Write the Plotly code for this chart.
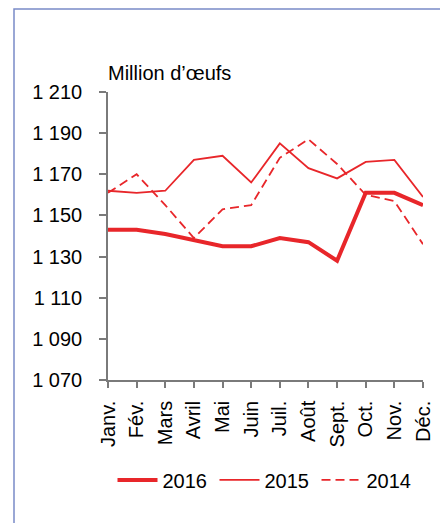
import plotly.graph_objects as go

months = ["Janv.", "Fév.", "Mars", "Avril", "Mai", "Juin", "Juil.", "Août", "Sept.", "Oct.", "Nov.", "Déc."]
y2016 = [1143, 1143, 1141, 1138, 1135, 1135, 1139, 1137, 1128, 1161, 1161, 1155]
y2015 = [1162, 1161, 1162, 1177, 1179, 1166, 1185, 1173, 1168, 1176, 1177, 1159]
y2014 = [1161, 1170, 1155, 1139, 1153, 1155, 1178, 1187, 1175, 1160, 1157, 1136]
ytick_vals = [1070, 1090, 1110, 1130, 1150, 1170, 1190, 1210]
ytick_text = ["1 070", "1 090", "1 110", "1 130", "1 150", "1 170", "1 190", "1 210"]

red = "#e8262a"
xs = list(range(len(months)))

fig = go.Figure()
fig.add_trace(go.Scatter(x=xs, y=y2016, mode="lines", name="2016",
                         line=dict(color=red, width=4)))
fig.add_trace(go.Scatter(x=xs, y=y2015, mode="lines", name="2015",
                         line=dict(color=red, width=1.8)))
fig.add_trace(go.Scatter(x=xs, y=y2014, mode="lines", name="2014",
                         line=dict(color=red, width=1.8, dash="9px,5px")))

font = "Liberation Sans, Arial, sans-serif"
fs = 20
fig.update_layout(
    width=440, height=515,
    margin=dict(l=100, r=25, t=84, b=143),
    paper_bgcolor="white", plot_bgcolor="white",
    font=dict(family=font, size=fs, color="black"),
    showlegend=True,
    legend=dict(orientation="h", x=0.5, xanchor="center", y=-0.347, yanchor="middle",
                font=dict(size=fs), itemwidth=40, traceorder="normal",
                entrywidth=47, entrywidthmode="pixels"),
    xaxis=dict(range=[0, 11], tickmode="array", tickvals=xs, ticktext=months,
               tickangle=-90, showgrid=False, zeroline=False,
               showline=True, linecolor="#7a7a7a", linewidth=1.5,
               ticks="outside", ticklen=6, tickcolor="#7a7a7a", tickwidth=1.5,
               ticklabelstandoff=5, tickfont=dict(size=fs)),
    yaxis=dict(range=[1070, 1210], tickmode="array", tickvals=ytick_vals, ticktext=ytick_text,
               showgrid=False, zeroline=False,
               showline=True, linecolor="#7a7a7a", linewidth=1.5,
               ticks="outside", ticklen=7, tickcolor="#7a7a7a", tickwidth=1.5,
               ticklabelstandoff=13, tickfont=dict(size=fs)),
    shapes=[dict(type="rect", xref="paper", yref="paper",
                 x0=-94/315, x1=1.2, y0=-0.6, y1=1 + 83/288,
                 line=dict(color="#7a8bc8", width=1.5), fillcolor="rgba(0,0,0,0)", layer="below")],
    annotations=[dict(text="Million d’œufs", xref="paper", yref="paper", x=-0.005, y=1 + 19/288,
                      xanchor="left", yanchor="middle", showarrow=False, font=dict(size=fs))],
)

fig.write_html("out.html")
